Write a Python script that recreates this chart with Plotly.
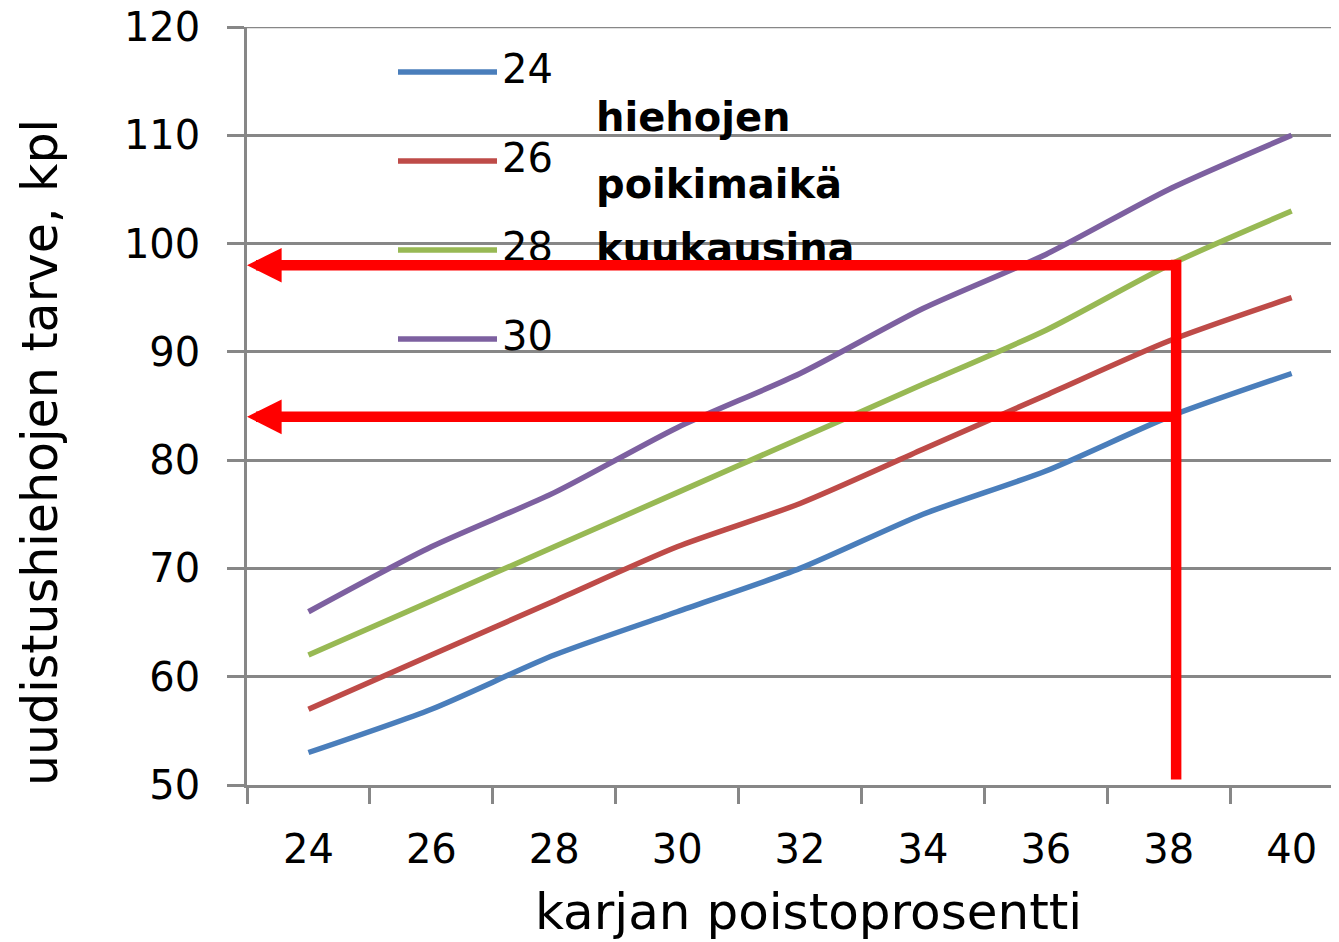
import plotly.graph_objects as go

# ---- data ----
categories = ["24", "26", "28", "30", "32", "34", "36", "38", "40"]
series_names = ["24", "26", "28", "30"]
values_24 = [53, 57, 62, 66, 70, 75, 79, 84, 88]
values_26 = [57, 62, 67, 72, 76, 81, 86, 91, 95]
values_28 = [62, 67, 72, 77, 82, 87, 92, 98, 103]
values_30 = [66, 72, 77, 83, 88, 94, 99, 105, 110]
series_values = [values_24, values_26, values_28, values_30]
colors = ["#4A7EBB", "#BE4B48", "#98B954", "#7D60A0"]

legend_title_lines = ["hiehojen", "poikimaikä", "kuukausina"]
x_title = "karjan poistoprosentti"
y_title = "uudistushiehojen tarve, kpl"

y_min, y_max, y_step = 50, 120, 10

# highlight (red guide lines)
highlight_category_index = 7       # "38"
highlight_values = [98, 84]

GRID = "#878787"
FONT = "DejaVu Sans"

# the page body adds an 8px offset; work in reference pixels and shift
OFF = 8
W, H = 1339 - OFF, 942 - OFF
L, T = 247 - OFF, 27 - OFF
B = H - (785 - OFF)
R = 0
pw, ph = W - L - R, H - T - B


def px(xr):
    return (xr - OFF - L) / pw


def py(yr):
    return (H - B - (yr - OFF)) / ph


fig = go.Figure()
for name, vals, col in zip(series_names, series_values, colors):
    fig.add_trace(go.Scatter(
        x=categories, y=vals, mode="lines", name=name,
        line=dict(color=col, width=5.5, shape="spline", smoothing=0.7),
        showlegend=False,
    ))

shapes = []
annotations = []

# top gridline (at range edge)
shapes.append(dict(type="line", xref="paper", yref="y", x0=0, x1=1,
                   y0=y_max, y1=y_max, line=dict(color=GRID, width=2.5),
                   layer="below"))

# manual legend (long line samples like the original)
legend_rows = [72, 161, 250, 339]
for name, col, yrow in zip(series_names, colors, legend_rows):
    shapes.append(dict(type="line", xref="paper", yref="paper",
                       x0=px(398), x1=px(497), y0=py(yrow), y1=py(yrow),
                       line=dict(color=col, width=5.5)))
    annotations.append(dict(text=name, xref="paper", yref="paper",
                            x=px(500), y=py(yrow - 3), xanchor="left", yanchor="middle",
                            showarrow=False, font=dict(family=FONT, size=40, color="black")))

for line, yl in zip(legend_title_lines, [117, 184, 248]):
    annotations.append(dict(text=line, xref="paper", yref="paper",
                            x=px(594), y=py(yl), xanchor="left", yanchor="middle",
                            showarrow=False,
                            font=dict(family=FONT, size=40, color="black", weight="bold")))

# axis titles
annotations.append(dict(text=x_title, xref="paper", yref="paper",
                        x=px(808), y=py(912), xanchor="center", yanchor="middle",
                        showarrow=False, font=dict(family=FONT, size=50, color="black")))
annotations.append(dict(text=y_title, xref="paper", yref="paper",
                        x=px(40), y=py(453), xanchor="center", yanchor="middle",
                        textangle=-90, showarrow=False,
                        font=dict(family=FONT, size=49, color="black")))

# red guide arrows
hx = highlight_category_index + 0.06
for v in highlight_values:
    annotations.append(dict(text="", x=-0.5, y=v, xref="x", yref="y",
                            ax=hx + 0.045, ay=v, axref="x", ayref="y",
                            showarrow=True, arrowhead=2, arrowsize=0.66,
                            arrowwidth=10.5, arrowcolor="#FF0000", standoff=0))
shapes.append(dict(type="line", xref="x", yref="y",
                   x0=hx, x1=hx, y0=y_min + 0.5, y1=max(highlight_values) + 0.5,
                   line=dict(color="#FF0000", width=10.5), layer="above"))

fig.update_layout(
    width=W, height=H,
    margin=dict(l=L, r=R, t=T, b=B, pad=0, autoexpand=False),
    paper_bgcolor="white", plot_bgcolor="white",
    showlegend=False,
    shapes=shapes, annotations=annotations,
    xaxis=dict(type="category", range=[-0.5, 8.5 - 14 / 122],
               tickson="boundaries", ticks="outside", ticklen=16, tickwidth=2.5,
               tickcolor=GRID, showline=True, linecolor=GRID, linewidth=2.5,
               showgrid=False, zeroline=False, ticklabelstandoff=27,
               ticklabeloverflow="allow",
               tickfont=dict(family=FONT, size=40, color="black")),
    yaxis=dict(range=[y_min, y_max], dtick=y_step, tick0=y_min, showgrid=True,
               gridcolor=GRID, gridwidth=2.5, showline=True, linecolor=GRID,
               linewidth=2.5, ticks="outside", ticklen=17, tickwidth=2.5,
               tickcolor=GRID, zeroline=False, ticklabelstandoff=19,
               ticklabeloverflow="allow",
               tickfont=dict(family=FONT, size=40, color="black")),
)

fig.write_html("out.html")
